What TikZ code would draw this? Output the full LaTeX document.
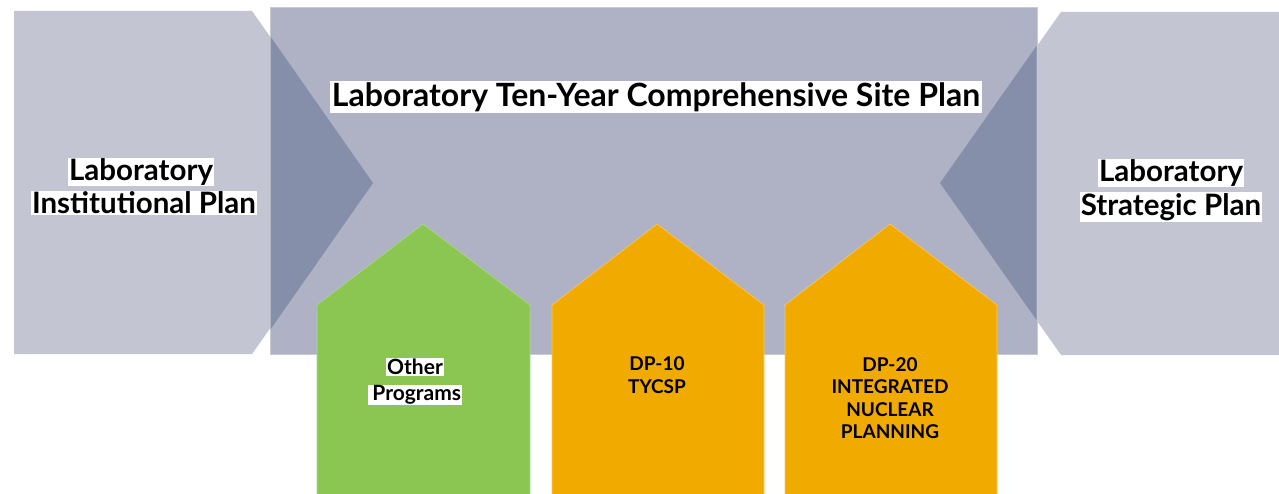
\documentclass[tikz,border=0pt]{standalone}
\usepackage{fontspec}
\setmainfont{Lato}
\definecolor{panelgray}{RGB}{195,197,211}
\definecolor{mainblue}{RGB}{175,178,197}
\definecolor{darkwedge}{RGB}{134,143,170}
\definecolor{framegray}{RGB}{202,203,210}
\definecolor{progreen}{RGB}{140,198,82}
\definecolor{greenedge}{RGB}{170,215,140}
\definecolor{proorange}{RGB}{240,170,0}
\definecolor{orangeedge}{RGB}{250,200,90}
\tikzset{
  sidelabel/.style={fill=white, inner xsep=1pt, inner ysep=1pt, font=\bfseries\fontsize{29.5}{30}\selectfont},
  titlelabel/.style={fill=white, inner xsep=2pt, inner ysep=1.5pt, font=\bfseries\fontsize{32}{32}\selectfont},
  houselabel/.style={font=\bfseries\fontsize{21}{21}\selectfont, inner sep=1pt},
  dplabel/.style={font=\bfseries\fontsize{19}{22.5}\selectfont, align=center, inner sep=0pt},
}
\begin{document}
\begin{tikzpicture}[x=1pt,y=-1pt]
  \useasboundingbox (0,0) rectangle (1279,494);
  % side chevrons
  \fill[panelgray] (14,11) -- (252,11) -- (373,183) -- (252,354) -- (14,354) -- cycle;
  \fill[panelgray] (1279,12) -- (1061,12) -- (940,183) -- (1061,355) -- (1279,355) -- cycle;
  % central site-plan block
  \filldraw[fill=mainblue, draw=framegray, line width=1pt] (270,8) rectangle (1037,354);
  % chevron tips overlapping the block
  \fill[darkwedge] (270.5,36.6) -- (373,183) -- (270.5,329.4) -- cycle;
  \fill[darkwedge] (1036.5,46) -- (940,183) -- (1036.5,320) -- cycle;
  % program houses
  \filldraw[fill=progreen, draw=greenedge, line width=0.6pt]
    (317,494) -- (317,305) -- (423,224) -- (530,305) -- (530,494);
  \filldraw[fill=proorange, draw=orangeedge, line width=0.6pt]
    (552,494) -- (552,305) -- (657,224) -- (764,305) -- (764,494);
  \filldraw[fill=proorange, draw=orangeedge, line width=0.6pt]
    (785,494) -- (785,305) -- (890,224) -- (997,305) -- (997,494);
  % labels
  \node[titlelabel] (title) at (656,97) {Laboratory Ten-Year Comprehensive Site Plan};
  \node[sidelabel] (instA) at (141,172) {Laboratory};
  \node[sidelabel] (instB) at (144,203) {Institutional Plan};
  \node[sidelabel] (stratA) at (1171,173) {Laboratory};
  \node[sidelabel] (stratB) at (1171,207) {Strategic Plan};
  \node[houselabel, fill=white] (otherA) at (415,367) {Other};
  \node[houselabel, fill=white] (otherB) at (415,395) {\,Programs};
  \node[dplabel] (dpten) at (657,375) {DP-10\\TYCSP};
  \node[dplabel] (dptwenty) at (890,398) {DP-20\\INTEGRATED\\NUCLEAR\\PLANNING};
\end{tikzpicture}
\end{document}
